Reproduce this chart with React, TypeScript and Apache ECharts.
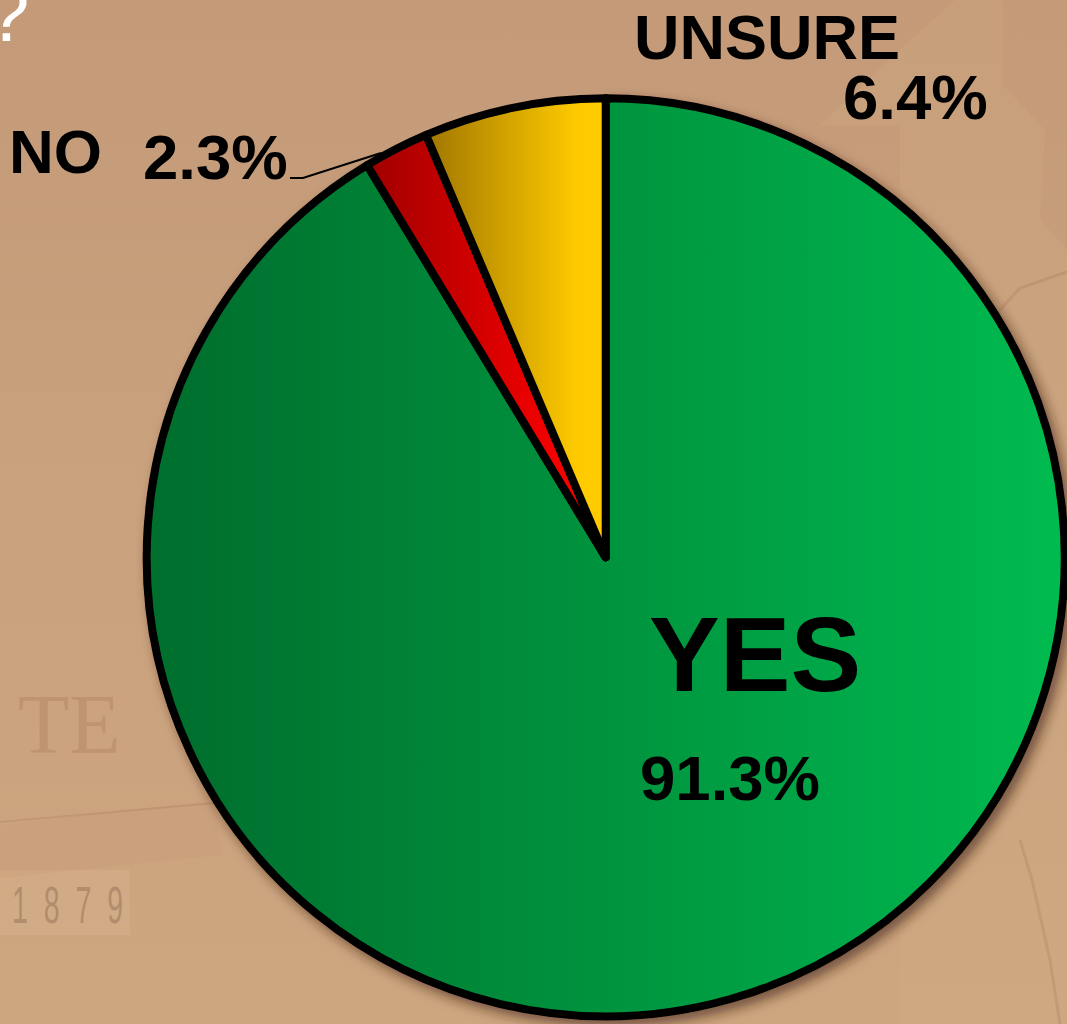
import React, { useEffect, useRef } from "react";
import * as echarts from "echarts";

const categories = ["YES", "NO", "UNSURE"];
const values = [91.3, 2.3, 6.4];
const gradients = [
  ["#00702e", "#00bb50"],
  ["#a00000", "#ff0000"],
  ["#a07600", "#ffcb00"],
];
const gradientEnds = [1, 0.88, 0.85];
const labelSpots: [number, number][] = [
  [640, 778],
  [143, 157],
  [843, 97],
];
const nameSpots = [
  { x: 649, y: 654, size: 106 },
  { x: 9, y: 151, size: 62 },
  { x: 634, y: 37, size: 63 },
];
const SANS = "'Liberation Sans', Arial, sans-serif";

function fill(i: number) {
  return {
    type: "linear",
    x: 0,
    y: 0,
    x2: 1,
    y2: 0,
    colorStops: [
      { offset: 0, color: gradients[i][0] },
      { offset: i === 0 ? 0.05 : 0, color: gradients[i][0] },
      { offset: gradientEnds[i], color: gradients[i][1] },
      { offset: 1, color: gradients[i][1] },
    ],
  };
}

export default function App() {
  const ref = useRef<HTMLDivElement>(null);
  useEffect(() => {
    document.body.style.margin = "0";
    const chart = echarts.init(ref.current!, undefined, { renderer: "svg" });
    const faint = "rgba(150,105,75,0.2)";
    chart.setOption({
      animation: false,
      backgroundColor: {
        type: "linear",
        x: 0,
        y: 0,
        x2: 0,
        y2: 1,
        colorStops: [
          { offset: 0, color: "#c49a78" },
          { offset: 0.45, color: "#c9a17d" },
          { offset: 1, color: "#cda680" },
        ],
      },
      graphic: {
        elements: [
          { type: "polygon", z: -5, silent: true, shape: { points: [[905, 45], [955, 0], [1003, 0], [1003, 85], [1045, 130], [1040, 220], [1067, 250], [1067, 1024], [900, 1024], [900, 125], [820, 125]] }, style: { fill: "rgba(208,172,132,0.3)" } },
          { type: "rect", z: -5, silent: true, shape: { x: 0, y: 870, width: 130, height: 65 }, style: { fill: "rgba(222,184,150,0.3)" } },
          { type: "polygon", z: -5, silent: true, shape: { points: [[0, 825], [215, 800], [222, 855], [0, 878]] }, style: { fill: "rgba(198,150,112,0.22)" } },
          { type: "polyline", z: -4, silent: true, shape: { points: [[0, 822], [215, 803]] }, style: { stroke: faint, lineWidth: 2, fill: "none" } },
          { type: "polyline", z: -4, silent: true, shape: { points: [[1000, 310], [1020, 288], [1067, 272]] }, style: { stroke: faint, lineWidth: 3, fill: "none" } },
          { type: "polyline", z: -4, silent: true, shape: { points: [[1020, 840], [1032, 880], [1050, 960], [1060, 1024]] }, style: { stroke: faint, lineWidth: 3, fill: "none" } },
          { type: "text", z: -3, silent: true, x: 18, y: 682, style: { text: "TE", fill: "rgba(150,105,75,0.25)", font: "84px 'Liberation Serif', serif" } },
          { type: "text", z: -3, silent: true, x: 12, y: 879, scaleX: 0.55, style: { text: "1  8  7  9", fill: "rgba(130,90,70,0.4)", font: "52px 'Liberation Sans', sans-serif" } },
          { type: "text", z: 10, silent: true, x: -14, y: -25, style: { text: "?", fill: "#ffffff", font: "78px 'Liberation Sans', sans-serif" } },
          ...categories.map((name, i) => ({
            type: "text",
            z: 10,
            silent: true,
            x: nameSpots[i].x,
            y: nameSpots[i].y,
            style: {
              text: name,
              fill: "#000000",
              font: `bold ${nameSpots[i].size}px ${SANS}`,
              verticalAlign: "middle",
            },
          })),
        ],
      },
      series: [
        {
          type: "pie",
          center: [605.7, 557.3],
          radius: [0, 459],
          startAngle: 90,
          clockwise: true,
          avoidLabelOverlap: false,
          itemStyle: { borderColor: "#000000", borderWidth: 8, borderJoin: "round" },
          label: {
            show: true,
            position: "outside",
            formatter: (p: any) => `${p.value}%`,
            color: "#000000",
            fontFamily: SANS,
            fontWeight: "bold",
            fontSize: 63.5,
            padding: 0,
          },
          labelLine: { show: false },
          labelLayout: (p: any) => ({
            x: labelSpots[p.dataIndex][0],
            y: labelSpots[p.dataIndex][1],
            align: "left",
            verticalAlign: "middle",
            ...(p.dataIndex === 1
              ? { labelLinePoints: [[290, 178], [303, 178], [381, 153]] }
              : {}),
          }),
          data: categories.map((name, i) => ({
            name,
            value: values[i],
            itemStyle:
              i === 0
                ? { color: fill(i), shadowBlur: 12, shadowOffsetX: 5, shadowOffsetY: 6, shadowColor: "rgba(60,35,15,0.6)" }
                : { color: fill(i) },
            labelLine: i === 1 ? { show: true, lineStyle: { color: "#000000", width: 2 } } : { show: false },
          })),
        },
      ],
    });
    return () => chart.dispose();
  }, []);
  return <div ref={ref} style={{ position: "absolute", left: 0, top: 0, width: 1067, height: 1024 }} />;
}
